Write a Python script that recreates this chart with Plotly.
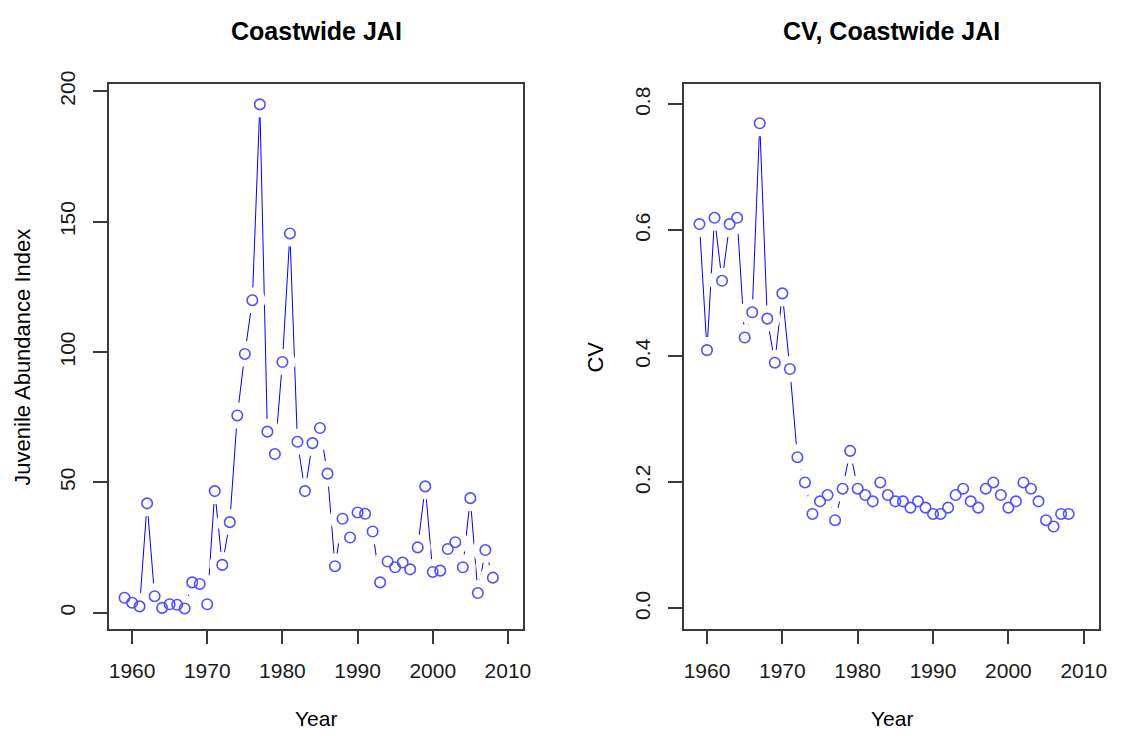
import plotly.graph_objects as go
from plotly.subplots import make_subplots

years = list(range(1959, 2009))

jai = [5.8, 3.9, 2.5, 42.0, 6.4, 1.9, 3.3, 3.1, 1.7, 11.7,
       11.1, 3.3, 46.7, 18.4, 34.8, 75.7, 99.3, 119.9, 195.0, 69.5,
       60.9, 96.2, 145.5, 65.6, 46.7, 65.1, 70.9, 53.4, 17.9, 36.1,
       28.9, 38.5, 38.0, 31.2, 11.7, 19.7, 17.5, 19.3, 16.7, 25.1,
       48.5, 15.7, 16.2, 24.5, 27.1, 17.5, 44.0, 7.6, 24.1, 13.5]

cv = [0.61, 0.41, 0.62, 0.52, 0.61, 0.62, 0.43, 0.47, 0.77, 0.46,
      0.39, 0.50, 0.38, 0.24, 0.20, 0.15, 0.17, 0.18, 0.14, 0.19,
      0.25, 0.19, 0.18, 0.17, 0.20, 0.18, 0.17, 0.17, 0.16, 0.17,
      0.16, 0.15, 0.15, 0.16, 0.18, 0.19, 0.17, 0.16, 0.19, 0.20,
      0.18, 0.16, 0.17, 0.20, 0.19, 0.17, 0.14, 0.13, 0.15, 0.15]

x_ticks = [1960, 1970, 1980, 1990, 2000, 2010]
jai_ticks = [0, 50, 100, 150, 200]
cv_ticks = [0.0, 0.2, 0.4, 0.6, 0.8]

titles = ["Coastwide JAI", "CV, Coastwide JAI"]
x_title = "Year"
y_titles = ["Juvenile Abundance Index", "CV"]

W, H = 1122, 734
FONT = "Liberation Sans, Arial, sans-serif"
BLUE = "#0000ff"
MARK = "rgb(80,80,255)"
BOX = "#3a3a3a"

fig = make_subplots(rows=1, cols=2)


def add_series(y, col):
    fig.add_trace(go.Scatter(x=years, y=y, mode="lines",
                             line=dict(color=BLUE, width=1),
                             showlegend=False, hoverinfo="skip"), row=1, col=col)
    fig.add_trace(go.Scatter(x=years, y=y, mode="markers",
                             marker=dict(symbol="circle", size=26, color="white",
                                         line=dict(width=0)),
                             showlegend=False, hoverinfo="skip"), row=1, col=col)
    fig.add_trace(go.Scatter(x=years, y=y, mode="markers",
                             marker=dict(symbol="circle-open", size=10.5, color=MARK,
                                         line=dict(width=1.6, color=MARK)),
                             showlegend=False), row=1, col=col)


add_series(jai, 1)
add_series(cv, 2)


def rpad(vals, lo=None, hi=None):
    a = min(vals) if lo is None else lo
    b = max(vals) if hi is None else hi
    d = (b - a) * 0.04
    return [a - d, b + d]


x_dom = [[110 / W, 527 / W], [689 / W, 1107 / W]]
y_dom = [1 - 626.7 / H, 1 - 72.5 / H]

common_axis = dict(showline=True, linecolor=BOX, linewidth=1.5, mirror=True,
                   ticks="outside", ticklen=14, tickwidth=1.5, tickcolor=BOX,
                   showgrid=False, zeroline=False,
                   tickfont=dict(family=FONT, size=21, color="#1a1a1a"))

fig.update_xaxes(range=[1956.96, 2012.04], tickvals=x_ticks,
                 ticklabelstandoff=8, **common_axis)
fig.update_layout(
    xaxis=dict(domain=x_dom[0]),
    xaxis2=dict(domain=x_dom[1]),
    yaxis=dict(domain=y_dom, range=rpad(jai), tickvals=jai_ticks,
               tickangle=-90, ticklabelstandoff=10, **common_axis),
    yaxis2=dict(domain=y_dom, range=rpad(cv, 0.0, 0.8), tickvals=cv_ticks,
                tickformat=".1f", tickangle=-90, ticklabelstandoff=10, **common_axis),
)

ann = []
for i, t in enumerate(titles):
    cx = (x_dom[i][0] + x_dom[i][1]) / 2
    ann.append(dict(text="<b>%s</b>" % t, x=cx, y=1 - 18 / H, xref="paper", yref="paper",
                    xanchor="center", yanchor="middle", showarrow=False,
                    font=dict(family=FONT, size=25, color="black")))
    ann.append(dict(text=x_title, x=cx, y=1 - 718 / H, xref="paper", yref="paper",
                    xanchor="center", yanchor="middle", showarrow=False,
                    font=dict(family=FONT, size=21, color="black")))
ann.append(dict(text=y_titles[0], x=23 / W, y=1 - 350 / H, xref="paper", yref="paper",
                xanchor="center", yanchor="middle", showarrow=False, textangle=-90,
                font=dict(family=FONT, size=22, color="black")))
ann.append(dict(text=y_titles[1], x=600 / W, y=1 - 350 / H, xref="paper", yref="paper",
                xanchor="center", yanchor="middle", showarrow=False, textangle=-90,
                font=dict(family=FONT, size=22, color="black")))

fig.update_layout(width=W, height=H, margin=dict(l=0, r=0, t=0, b=0),
                  plot_bgcolor="white", paper_bgcolor="white",
                  annotations=ann, showlegend=False)

fig.write_html("out.html", config={"displayModeBar": False},
               post_script="document.body.style.margin='0';"
                           "document.body.style.padding='0';"
                           "document.body.style.overflow='hidden';")
